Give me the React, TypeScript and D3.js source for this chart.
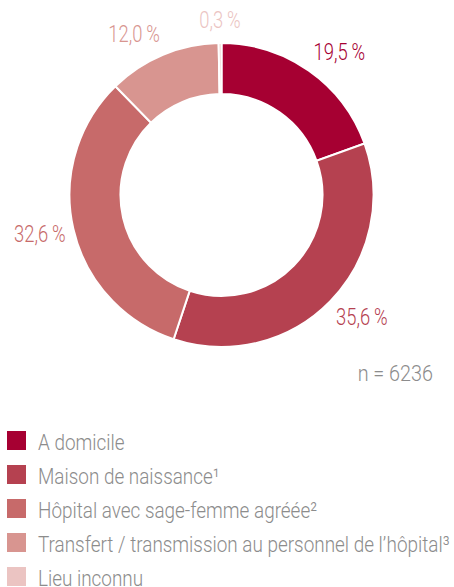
import React from "react";
import * as d3 from "d3";

const categories = [
  "A domicile",
  "Maison de naissance¹",
  "Hôpital avec sage-femme agréée²",
  "Transfert / transmission au personnel de l’hôpital³",
  "Lieu inconnu",
];
const values = [19.5, 35.6, 32.6, 12.0, 0.3];
const valueLabels = ["19,5\u2009%", "35,6\u2009%", "32,6\u2009%", "12,0\u2009%", "0,3\u2009%"];
const colors = ["#A60032", "#B54150", "#C76A6A", "#D89590", "#EBC4C2"];
const nLabel = "n = 6236";

const W = 454;
const H = 587;
const FONT = "Roboto, 'DejaVu Sans Condensed', sans-serif";

function CText(props: {
  x: number;
  y: number;
  sx: number;
  anchor?: "start" | "middle" | "end";
  fill: string;
  size: number;
  children: React.ReactNode;
}) {
  return (
    <text
      transform={`translate(${props.x},${props.y}) scale(${props.sx},1)`}
      textAnchor={props.anchor || "start"}
      fill={props.fill}
      fontSize={props.size}
      fontWeight={300}
    >
      {props.children}
    </text>
  );
}

export default function App() {
  const cx = 221.5;
  const cy = 195;
  const outerR = 152;
  const innerR = 101;
  const labelRx = 160;
  const labelRy = 175;

  const pie = d3
    .pie<number>()
    .sort(null)
    .value((d) => d);
  const arcs = pie(values);
  const arcGen = d3
    .arc<d3.PieArcDatum<number>>()
    .innerRadius(innerR)
    .outerRadius(outerR);

  const legendY = d3
    .scaleBand<number>()
    .domain(d3.range(categories.length))
    .range([431, 431 + 34 * categories.length])
    .paddingInner(0);

  return (
    <svg
      width={W}
      height={H}
      style={{ position: "absolute", left: 0, top: 0 }}
      fontFamily={FONT}
    >
      <g transform={`translate(${cx},${cy})`}>
        {arcs.map((a, i) => (
          <path
            key={i}
            d={arcGen(a) || ""}
            fill={colors[i]}
            stroke="#fff"
            strokeWidth={2}
          />
        ))}
        {arcs.map((a, i) => {
          const mid = (a.startAngle + a.endAngle) / 2;
          const s = Math.sin(mid);
          const c = Math.cos(mid);
          const anchor = Math.abs(s) < 0.1 ? "middle" : s > 0 ? "start" : "end";
          const x = labelRx * s;
          const y = -labelRy * c;
          return (
            <CText key={i} x={x} y={y + 8} sx={0.8} anchor={anchor} fill={colors[i]} size={23}>
              {valueLabels[i]}
            </CText>
          );
        })}
      </g>
      <CText x={433} y={381} sx={0.9} anchor="end" fill="#8c8c8c" size={22}>
        {nLabel}
      </CText>
      {categories.map((c, i) => {
        const y = legendY(i)!;
        return (
          <g key={i}>
            <rect x={7} y={y} width={19} height={19} fill={colors[i]} />
            <CText x={38} y={y + 19} sx={0.86} fill="#8c8c8c" size={22}>
              {c}
            </CText>
          </g>
        );
      })}
    </svg>
  );
}
